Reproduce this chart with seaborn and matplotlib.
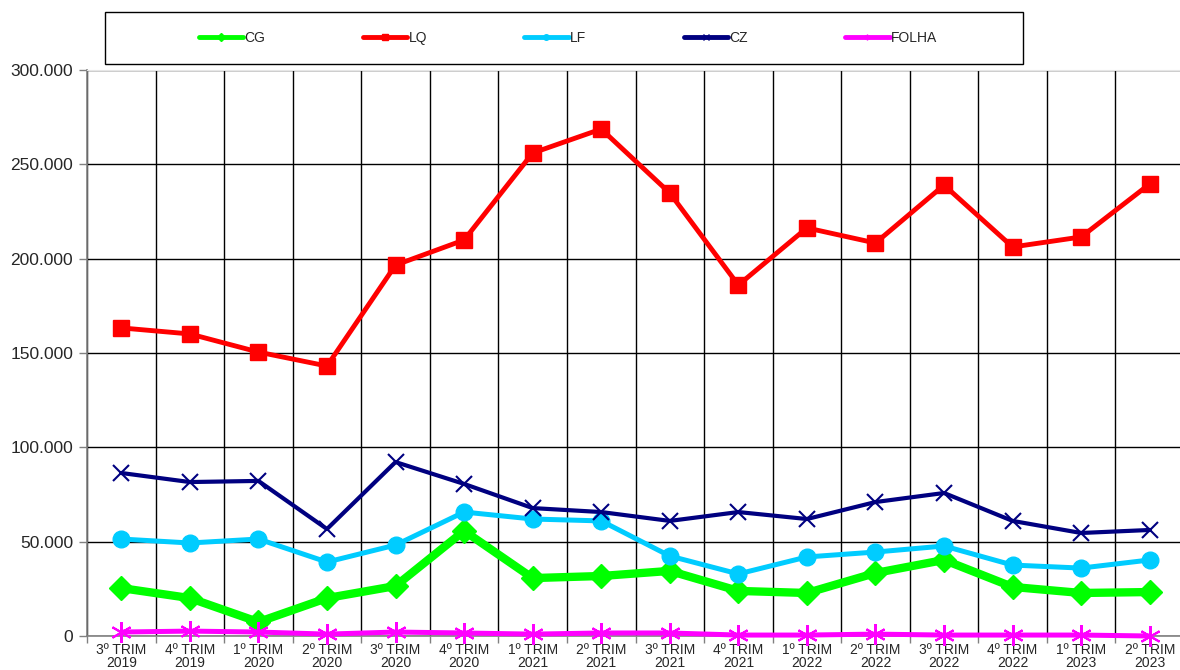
import numpy as np
import pandas as pd
import seaborn as sns
import matplotlib
matplotlib.use("Agg")
import matplotlib.pyplot as plt
from matplotlib.ticker import FuncFormatter, FixedLocator
from matplotlib.lines import Line2D
from matplotlib.patches import Rectangle

categories = ["3º TRIM\n2019", "4º TRIM\n2019", "1º TRIM\n2020", "2º TRIM\n2020",
              "3º TRIM\n2020", "4º TRIM\n2020", "1º TRIM\n2021", "2º TRIM\n2021",
              "3º TRIM\n2021", "4º TRIM\n2021", "1º TRIM\n2022", "2º TRIM\n2022",
              "3º TRIM\n2022", "4º TRIM\n2022", "1º TRIM\n2023", "2º TRIM\n2023"]

cg = [25400, 20100, 7400, 20100, 26500, 55700, 30700, 31800, 34500, 23900, 22800, 33400, 40300, 26000, 22800, 23300]
lq = [163300, 160100, 150500, 143100, 196600, 209900, 256000, 268700, 234800, 186000, 216300, 208300, 239000, 206200, 211500, 239600]
lf = [51400, 49300, 51400, 39200, 48200, 65700, 62000, 61000, 42400, 32900, 41900, 44500, 47700, 37600, 36000, 40300]
cz = [86400, 81600, 82200, 56700, 92200, 80600, 67800, 65700, 61000, 65700, 62000, 71000, 75800, 61000, 54600, 56200]
folha = [2100, 2600, 2100, 1000, 2100, 1600, 1000, 1600, 1600, 500, 500, 1000, 500, 500, 500, 0]

series_names = ["CG", "LQ", "LF", "CZ", "FOLHA"]
series_values = [cg, lq, lf, cz, folha]
colors = ["#00FF00", "#FF0000", "#00CCFF", "#000080", "#FF00FF"]
markers = ["D", "s", "o", "x", (6, 2, 0)]
msizes = [12, 11, 12, 11, 15]
lws = [6.0, 3.5, 3.6, 3.0, 3.6]
mews = [1, 1, 1, 1.5, 1.5]

sns.set_style("white")
plt.rcParams['font.family'] = ['Liberation Sans', 'DejaVu Sans']

fig = plt.figure(figsize=(11.8, 6.7), dpi=100)
ax = fig.add_axes([87/1180, 1-636/670, (1184-87)/1180, (636-70)/670])

x = np.arange(len(categories))
for name, vals, c, m, ms, lw, mew in zip(series_names, series_values, colors, markers, msizes, lws, mews):
    sns.lineplot(x=x, y=vals, ax=ax, color=c, marker=m, markersize=ms, linewidth=lw,
                 markeredgecolor=c, markerfacecolor=c, markeredgewidth=mew,
                 clip_on=False, zorder=3)

ax.set_xlim(-0.5, len(categories) - 0.5)
ax.set_ylim(0, 300000)
ax.set_xlabel("")
ax.set_ylabel("")

# y axis
ax.yaxis.set_major_locator(FixedLocator(np.arange(0, 300001, 50000)))
ax.yaxis.set_major_formatter(FuncFormatter(lambda v, p: f"{v:,.0f}".replace(",", ".")))
ax.tick_params(axis='y', length=6, width=1, color='#808080', labelsize=12.5, pad=4, left=True)

# x axis: ticks at boundaries, labels at centers
ax.xaxis.set_major_locator(FixedLocator(np.arange(-0.5, len(categories), 1.0)))
ax.xaxis.set_major_formatter(FuncFormatter(lambda v, p: ""))
ax.xaxis.set_minor_locator(FixedLocator(x))
ax.set_xticklabels(categories, minor=True)
ax.tick_params(axis='x', which='major', length=5, width=1, color='#808080', bottom=True)
ax.tick_params(axis='x', which='minor', length=0, labelsize=10, pad=5)
for lab in ax.get_xticklabels(minor=True):
    lab.set_linespacing(0.9)

ax.grid(True, which='major', axis='both', color='black', linewidth=1)
ax.set_axisbelow(True)

for s in ["left", "bottom"]:
    ax.spines[s].set_color('#808080')
    ax.spines[s].set_linewidth(1.2)
ax.spines["top"].set_color('#e6e6e6')
ax.spines["right"].set_visible(False)

# legend box
fig.patches.append(Rectangle((105/1180, 1-64/670), 918/1180, 52/670, transform=fig.transFigure,
                             fill=False, edgecolor='black', linewidth=1))
handles = [Line2D([0], [0], color=c, lw=3.5, marker=m, markersize=4, markeredgecolor=c)
           for c, m in zip(colors, markers)]
fig.legend(handles, series_names, loc='center', bbox_to_anchor=(568/1180, 1-38/670), ncol=5,
           frameon=False, fontsize=10, handlelength=3.2, handletextpad=0.1, columnspacing=7.0)

fig.savefig("out.png", dpi=100)
